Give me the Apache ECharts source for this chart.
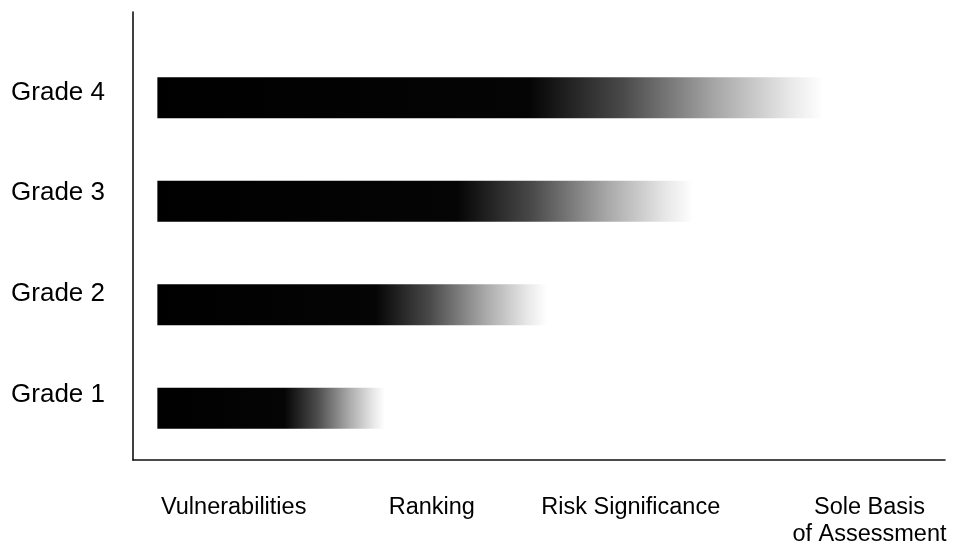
<!DOCTYPE html>
<html>
<head>
<meta charset="utf-8">
<script src="https://cdn.jsdelivr.net/npm/echarts@6/dist/echarts.min.js"></script>
<style>
html,body{margin:0;padding:0;background:#fff;}
#chart{width:970px;height:548px;}
</style>
</head>
<body>
<div id="chart"></div>
<script>
// ---- data ----
var categories = ['Grade 1', 'Grade 2', 'Grade 3', 'Grade 4'];
var barValues = [28, 48, 66, 82];
var xTickValues = [9.4, 33.8, 58.3, 87.7];
var xTickLabels = ['Vulnerabilities', 'Ranking', 'Risk Significance', 'Sole Basis\nof Assessment'];

var FONT = 'Liberation Sans, Arial, sans-serif';
var fade = {
  type: 'linear', x: 0, y: 0, x2: 1, y2: 0,
  colorStops: [
    { offset: 0, color: '#000000' },
    { offset: 0.56, color: '#050505' },
    { offset: 0.7, color: '#4a4a4a' },
    { offset: 0.84, color: '#a8a8a8' },
    { offset: 0.95, color: '#e8e8e8' },
    { offset: 1, color: '#ffffff' }
  ]
};

var chart = echarts.init(document.getElementById('chart'));
chart.setOption({
  animation: false,
  backgroundColor: '#fff',
  grid: [
    { left: 133, right: 25, top: 12, bottom: 88 },   // frame
    { left: 133, right: 25, top: 46, bottom: 86 },   // bars
    { left: 133, right: 25, top: 42, bottom: 103 }   // y labels
  ],
  xAxis: [
    { gridIndex: 0, type: 'value', min: 0, max: 1,
      axisLine: { show: true, lineStyle: { color: '#111', width: 1.6 } },
      axisTick: { show: false }, axisLabel: { show: false }, splitLine: { show: false } },
    { gridIndex: 1, type: 'value', min: -3, max: 97,
      axisLine: { show: false }, axisTick: { show: false }, splitLine: { show: false },
      axisLabel: {
        show: true,
        customValues: xTickValues,
        formatter: function (v) {
          for (var i = 0; i < xTickValues.length; i++) {
            if (Math.abs(xTickValues[i] - v) < 1e-6) return xTickLabels[i];
          }
          return '';
        },
        margin: 34, fontSize: 23.5, lineHeight: 27, color: '#000', fontFamily: FONT, align: 'center'
      } },
    { gridIndex: 2, type: 'value', min: 0, max: 1, show: false }
  ],
  yAxis: [
    { gridIndex: 0, type: 'value', min: 0, max: 1,
      axisLine: { show: true, lineStyle: { color: '#111', width: 1.6 } },
      axisTick: { show: false }, axisLabel: { show: false }, splitLine: { show: false } },
    { gridIndex: 1, type: 'category', data: categories,
      axisLine: { show: false, onZero: false }, axisTick: { show: false }, axisLabel: { show: false } },
    { gridIndex: 2, type: 'category', data: categories,
      axisLine: { show: false, onZero: false }, axisTick: { show: false },
      axisLabel: { show: true, margin: 28, fontSize: 26, color: '#000', fontFamily: FONT } }
  ],
  series: [
    {
      type: 'bar',
      xAxisIndex: 1, yAxisIndex: 1,
      data: barValues,
      barWidth: 41,
      itemStyle: { color: fade },
      silent: true
    }
  ]
});
</script>
</body>
</html>
